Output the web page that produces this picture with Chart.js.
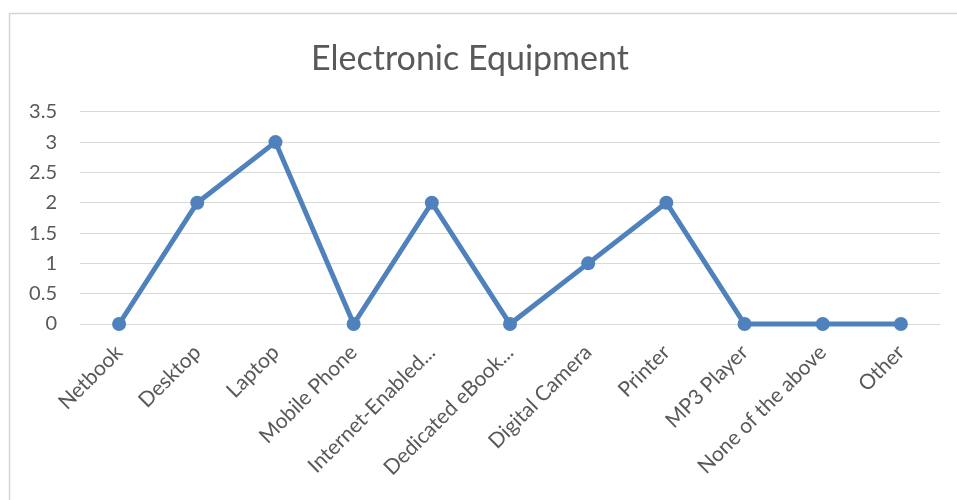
<!DOCTYPE html>
<html>
<head>
<meta charset="utf-8">
<script src="https://cdn.jsdelivr.net/npm/chart.js@4"></script>
<style>
  html, body { margin: 0; padding: 0; background: #fff; }
  #wrap { width: 957px; height: 500px; }
</style>
</head>
<body>
<div id="wrap"><canvas id="chart" width="957" height="500"></canvas></div>
<script>
// chart data
const categories = ['Netbook', 'Desktop', 'Laptop', 'Mobile Phone', 'Internet-Enabled...',
    'Dedicated eBook...', 'Digital Camera', 'Printer', 'MP3 Player', 'None of the above', 'Other'];
const counts = [0, 2, 3, 0, 2, 0, 1, 2, 0, 0, 0];
const yTicks = [0, 0.5, 1, 1.5, 2, 2.5, 3, 3.5];

const blue = '#4F81BD';
const textGray = '#595959';
const gridGray = '#D9D9D9';

// light frame around the chart, cut off at right and bottom like the original
const framePlugin = {
    id: 'frame',
    beforeDraw(chart) {
        const ctx = chart.ctx;
        ctx.save();
        ctx.strokeStyle = '#D4D4D4';
        ctx.lineWidth = 1.5;
        ctx.beginPath();
        ctx.moveTo(9.5, 500);
        ctx.lineTo(9.5, 13.5);
        ctx.lineTo(957, 13.5);
        ctx.stroke();
        ctx.restore();
    }
};

new Chart(document.getElementById('chart'), {
    type: 'line',
    data: {
        labels: categories,
        datasets: [{
            label: 'Electronic Equipment',
            data: counts,
            borderColor: blue,
            backgroundColor: blue,
            borderWidth: 5,
            pointRadius: 7,
            pointBorderWidth: 0,
            pointBackgroundColor: blue,
            tension: 0,
            clip: false
        }]
    },
    options: {
        responsive: false,
        animation: false,
        layout: { padding: { left: 0, right: 17, top: 0, bottom: 0 } },
        plugins: {
            legend: { display: false },
            tooltip: { enabled: false },
            title: {
                display: true,
                text: 'Electronic Equipment',
                color: textGray,
                font: { family: 'Lato', size: 34, weight: 'normal' },
                padding: { top: 39, bottom: 32 }
            }
        },
        scales: {
            x: {
                offset: true,
                grid: { display: false },
                border: { display: false },
                ticks: {
                    color: textGray,
                    font: { family: 'Lato', size: 21 },
                    minRotation: 45,
                    maxRotation: 45,
                    autoSkip: false,
                    padding: 8
                },
                afterFit(scale) { scale.height = 176; }
            },
            y: {
                min: 0,
                max: 3.5,
                afterBuildTicks(scale) { scale.ticks = yTicks.map(v => ({ value: v })); },
                grid: { color: gridGray, lineWidth: 1, drawTicks: false },
                border: { display: false },
                ticks: {
                    color: textGray,
                    font: { family: 'Lato', size: 20 },
                    padding: 23,
                    callback: (v) => String(v)
                },
                afterFit(scale) { scale.width = 80; }
            }
        }
    },
    plugins: [framePlugin]
});
</script>
</body>
</html>
